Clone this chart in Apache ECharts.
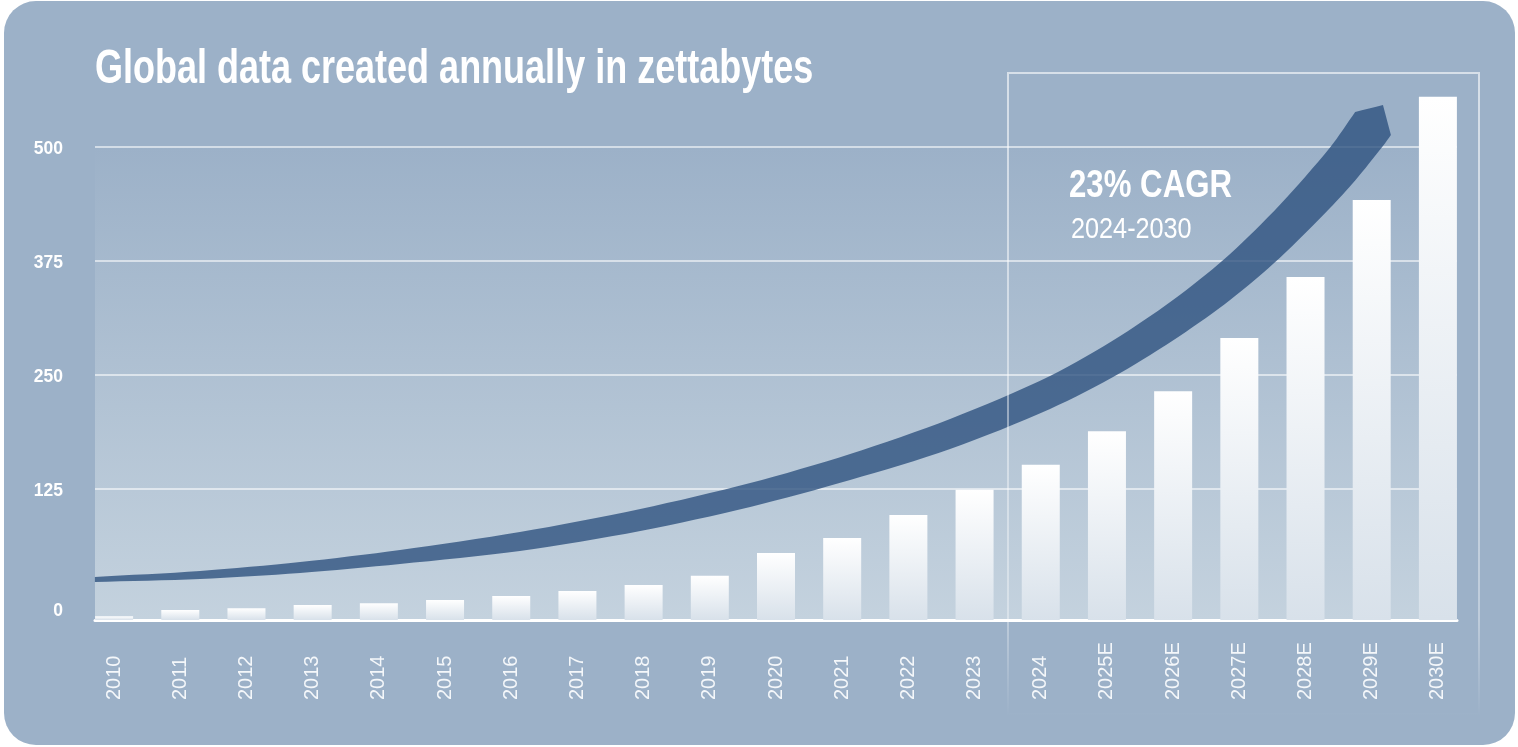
<!DOCTYPE html>
<html>
<head>
<meta charset="utf-8">
<title>Global data created annually in zettabytes</title>
<script src="https://cdn.jsdelivr.net/npm/echarts@6/dist/echarts.min.js"></script>
<style>
html, body { margin: 0; padding: 0; background: #ffffff; }
#chart { width: 1518px; height: 747px; }
</style>
</head>
<body>
<div id="chart"></div>
<script>
// categories and values (zettabytes)
var years = ['2010', '2011', '2012', '2013', '2014', '2015', '2016', '2017', '2018', '2019',
    '2020', '2021', '2022', '2023', '2024', '2025E', '2026E', '2027E', '2028E', '2029E', '2030E'];
var zettabytes = [4, 11, 13, 16.5, 18.5, 22, 26.5, 32, 38.5, 48.5,
    73.5, 90, 115.5, 143, 170.5, 207.5, 251.5, 310, 377, 461.5, 575];

// y axis ticks
var yMin = 0, yMax = 500, yStep = 125;

// growth swoosh: lower and upper edge of the band (last three points = arrow head)
var swooshYears = [2009.71, 2011.30, 2012.81, 2014.32, 2016.13, 2017.95, 2019.61, 2021.12, 2022.63,
    2024.14, 2025.20, 2026.10, 2026.86, 2027.61, 2028.37, 2028.75, 2029.17, 2029.29];
var swooshLower = [41.8, 45.1, 51.6, 61.5, 75.8, 97.8, 124.2, 153.8, 187.9,
    231.9, 271.4, 312.1, 351.6, 397.8, 452.7, 483.0, 520.9, 533.0];
var swooshUpper = [47.3, 53.8, 63.7, 76.9, 96.7, 122.0, 150.5, 182.4, 220.9,
    268.1, 312.1, 357.1, 402.2, 456.0, 519.2, 558.2, 565.9, 533.0];

var titleText = 'Global data created annually in zettabytes';
var cagrText = '23% CAGR';
var cagrRange = '2024-2030';

var chart = echarts.init(document.getElementById('chart'));

chart.setOption({
    backgroundColor: '#ffffff',
    animation: false,
    graphic: [
        {
            type: 'rect', z: -100,
            shape: { x: 4, y: 1, width: 1511, height: 744, r: 32 },
            style: { fill: '#9cb1c8' }
        },
        {
            type: 'rect', z: 50,
            shape: { x: 1008, y: 73, width: 471, height: 641 },
            style: {
                fill: 'none', lineWidth: 2,
                stroke: new echarts.graphic.LinearGradient(0, 0, 0, 1, [
                    { offset: 0, color: 'rgba(255,255,255,0.6)' },
                    { offset: 0.85, color: 'rgba(255,255,255,0.35)' },
                    { offset: 1, color: 'rgba(255,255,255,0)' }
                ])
            }
        },
        {
            type: 'text', z: 50, x: 95, y: 70, scaleX: 0.75,
            style: {
                text: titleText, fill: '#ffffff',
                font: 'bold 48px "Liberation Sans", Arial, sans-serif',
                verticalAlign: 'middle', align: 'left'
            }
        },
        {
            type: 'text', z: 50, x: 1069, y: 186, scaleX: 0.8,
            style: {
                text: cagrText, fill: '#ffffff',
                font: 'bold 39px "Liberation Sans", Arial, sans-serif',
                verticalAlign: 'middle', align: 'left'
            }
        },
        {
            type: 'text', z: 50, x: 1071, y: 230, scaleX: 0.87,
            style: {
                text: cagrRange, fill: '#ffffff',
                font: '29px "Liberation Sans", Arial, sans-serif',
                verticalAlign: 'middle', align: 'left'
            }
        }
    ],
    grid: [
        // labelled axis + gridlines
        { left: 95, right: 61, top: 147, bottom: 145 },
        // bars and swoosh
        { left: 81, right: 47, top: 74, bottom: 127 },
        // plot background + baseline
        {
            left: 95, right: 61, top: 147, bottom: 127, show: true, borderWidth: 0,
            backgroundColor: new echarts.graphic.LinearGradient(0, 0, 0, 1, [
                { offset: 0, color: '#9cb1c8' },
                { offset: 1, color: '#c4d2de' }
            ])
        }
    ],
    xAxis: [
        { gridIndex: 0, type: 'value', show: false },
        {
            gridIndex: 1, type: 'category', data: years,
            axisLine: { show: false }, axisTick: { show: false },
            axisLabel: {
                rotate: 90, align: 'left', verticalAlign: 'middle', margin: 80, interval: 0,
                color: '#f4f7fa', fontSize: 20, fontFamily: '"Liberation Sans Narrow", "Liberation Sans", sans-serif'
            }
        },
        { gridIndex: 1, type: 'value', min: 2009.5, max: 2030.5, show: false },
        {
            gridIndex: 2, type: 'value',
            axisLine: { show: true, lineStyle: { color: '#ffffff', width: 3 } },
            axisTick: { show: false }, axisLabel: { show: false }, splitLine: { show: false }
        }
    ],
    yAxis: [
        {
            gridIndex: 0, type: 'value', min: yMin, max: yMax, interval: yStep,
            axisLine: { show: false }, axisTick: { show: false },
            splitLine: { show: true, showMinLine: false, lineStyle: { color: 'rgba(255,255,255,0.75)', width: 1.5 } },
            axisLabel: {
                color: '#ffffff', fontSize: 17.5, fontWeight: 'bold', fontFamily: '"Liberation Sans", Arial, sans-serif',
                margin: 32, padding: [5, 0, 0, 0],
                formatter: function (v) { return v === 0 ? '{z|0}' : String(v); },
                rich: {
                    z: { color: '#ffffff', fontSize: 17.5, fontWeight: 'bold', fontFamily: '"Liberation Sans", Arial, sans-serif', padding: [14, 0, 0, 0] }
                }
            }
        },
        { gridIndex: 1, type: 'value', min: 0, max: 600, show: false },
        { gridIndex: 2, type: 'value', show: false }
    ],
    series: [
        {
            name: 'Zettabytes',
            type: 'bar',
            xAxisIndex: 1, yAxisIndex: 1,
            data: zettabytes,
            barWidth: 38,
            clip: false,
            z: 5,
            itemStyle: {
                color: new echarts.graphic.LinearGradient(0, 0, 0, 1, [
                    { offset: 0, color: '#ffffff' },
                    { offset: 1, color: '#d8e1ea' }
                ])
            }
        },
        {
            name: 'Growth',
            type: 'custom',
            xAxisIndex: 2, yAxisIndex: 1,
            z: 6,
            data: swooshYears.map(function (y, i) { return [y, swooshLower[i], swooshUpper[i]]; }),
            encode: { x: 0, y: [1, 2] },
            renderItem: function (params, api) {
                if (params.dataIndex !== 0) return null;
                var n = swooshYears.length;
                var head = n - 3;
                var pts = [];
                // a doubled point keeps a sharp corner in the smoothed outline
                function add(p, sharp) {
                    pts.push(p);
                    if (sharp) pts.push(p.slice());
                }
                for (var i = 0; i < n; i++) {
                    add(api.coord([swooshYears[i], swooshUpper[i]]), i === 0 || i >= head);
                }
                for (var j = n - 2; j >= 0; j--) {
                    add(api.coord([swooshYears[j], swooshLower[j]]), j === 0);
                }
                return {
                    type: 'polygon',
                    shape: { points: pts, smooth: 0.3 },
                    style: { fill: 'rgba(44,80,125,0.78)' }
                };
            }
        }
    ]
});

window.addEventListener('resize', function () {
    chart.resize();
});
</script>
</body>
</html>
